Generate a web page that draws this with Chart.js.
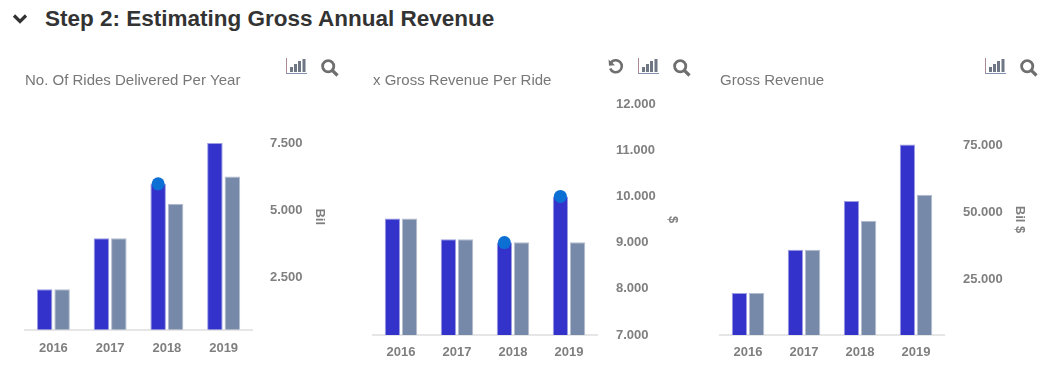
<!DOCTYPE html>
<html>
<head>
<meta charset="utf-8">
<script src="https://cdn.jsdelivr.net/npm/chart.js@4"></script>
<style>
  html, body { margin: 0; padding: 0; background: #fff; width: 1050px; height: 377px; overflow: hidden; }
  h2 { position: absolute; left: 45px; top: 6px; margin: 0; font: bold 22.5px/26px "Liberation Sans", Arial, sans-serif; color: #333; }
  canvas, svg.icon { position: absolute; }
</style>
</head>
<body>
<svg width="0" height="0" style="position:absolute">
  <symbol id="barsIcon" viewBox="0 0 21 16">
    <path d="M.5 0V15" stroke="#a98a94" fill="none"/>
    <path d="M0 15.5H21" stroke="#8190ad" fill="none"/>
    <path d="M4 9h3v5H4zM8 6h3v8H8zM12 3h3v11h-3zM16.5 1h3v13h-3z" fill="#6f7784"/>
  </symbol>
  <symbol id="zoomIcon" viewBox="0 0 18 18">
    <circle cx="7.2" cy="7.2" r="5.6" fill="none" stroke="#6f6f6f" stroke-width="2.8"/>
    <path d="M11.3 11.3L16.5 16.5" stroke="#6f6f6f" stroke-width="3.2" fill="none"/>
  </symbol>
  <symbol id="resetIcon" viewBox="0 0 16 15">
    <path d="M3 3.6A6 6 0 1 1 2.2 9.5" fill="none" stroke="#6f6f6f" stroke-width="2.6"/>
    <path d="M.6 .6L1 6.8L7 6.2z" fill="#6f6f6f"/>
  </symbol>
</svg>

<svg class="icon" style="left:12px;top:13px" width="16" height="12" viewBox="0 0 16 12"><path d="M2 2.5l6 6 6-6" fill="none" stroke="#333" stroke-width="3.2"/></svg>
<h2>Step 2: Estimating Gross Annual Revenue</h2>

<svg class="icon" style="left:286px;top:58px" width="21" height="16"><use href="#barsIcon"/></svg>
<svg class="icon" style="left:321px;top:59px" width="18" height="18"><use href="#zoomIcon"/></svg>
<svg class="icon" style="left:608px;top:59px" width="16" height="15"><use href="#resetIcon"/></svg>
<svg class="icon" style="left:638px;top:58px" width="21" height="16"><use href="#barsIcon"/></svg>
<svg class="icon" style="left:673px;top:59px" width="18" height="18"><use href="#zoomIcon"/></svg>
<svg class="icon" style="left:985px;top:58px" width="21" height="16"><use href="#barsIcon"/></svg>
<svg class="icon" style="left:1020px;top:59px" width="18" height="18"><use href="#zoomIcon"/></svg>

<canvas id="rides"></canvas>
<canvas id="perRide"></canvas>
<canvas id="gross"></canvas>

<script>
// ── Data ─────────────────────────────────────────────────────────

const years = ['2016', '2017', '2018', '2019'];

const ridesFirst = [2.08, 3.975, 5.99, 7.5];
const ridesSecond = [2.08, 3.975, 5.25, 6.26];
const ridesTicks = [2.5, 5, 7.5];
const ridesDots = ['2018'];

const perRideFirst = [9.52, 9.07, 9.0, 10.0];
const perRideSecond = [9.52, 9.07, 9.01, 9.01];
const perRideTicks = [7, 8, 9, 10, 11, 12];
const perRideDots = ['2018', '2019'];

const grossFirst = [19.8, 36.1, 54.3, 75.5];
const grossSecond = [19.8, 36.1, 46.9, 56.7];
const grossTicks = [25, 50, 75];
const grossDots = [];

const FONT = '"Liberation Sans", Arial, sans-serif';
const GREY = '#7f7f7f';

// ── Blue marker on top of the first bar of a year ────────────────

const dotPlugin = {
    id: 'barDots',
    afterDatasetsDraw(chart, args, opts) {
        const ctx = chart.ctx;
        const bars = chart.getDatasetMeta(0).data;
        for (const year of opts.years) {
            const bar = bars[years.indexOf(year)];
            ctx.save();
            ctx.fillStyle = '#0b6fd4';
            ctx.beginPath();
            ctx.arc(bar.x, bar.y, 6.5, 0, Math.PI * 2);
            ctx.fill();
            ctx.restore();
        }
    },
};

function makeChart(id, c) {
    const canvas = document.getElementById(id);
    canvas.style.left = c.left + 'px';
    canvas.style.top = '65px';
    canvas.style.width = c.width + 'px';
    canvas.style.height = c.height + 'px';
    canvas.width = c.width;
    canvas.height = c.height;

    return new Chart(canvas, {
        type: 'bar',
        plugins: [dotPlugin],
        data: {
            labels: years,
            datasets: [
                { data: c.first, backgroundColor: '#3333cc', borderColor: '#9d9de0', borderWidth: 1 },
                { data: c.second, backgroundColor: '#7789a8', borderColor: '#b4bdd0', borderWidth: 1 },
            ],
        },
        options: {
            responsive: false,
            animation: false,
            categoryPercentage: 0.615,
            barPercentage: 0.89,
            layout: { padding: { left: c.padLeft } },
            plugins: {
                legend: { display: false },
                tooltip: { enabled: false },
                barDots: { years: c.dots },
                title: {
                    display: true,
                    text: c.title,
                    align: 'start',
                    color: '#777',
                    font: { family: FONT, size: 15, weight: 'normal' },
                    padding: { top: 7, bottom: 14 },
                },
            },
            scales: {
                x: {
                    grid: { display: false, drawTicks: false },
                    border: { color: '#e6e6e6', width: 2 },
                    ticks: { color: GREY, font: { family: FONT, size: 13, weight: 'bold' }, padding: c.xPad, maxRotation: 0 },
                    afterFit(scale) { scale.height = c.xHeight; },
                },
                y: {
                    position: 'right',
                    min: c.min,
                    max: c.max,
                    grid: { display: false, drawTicks: false },
                    border: { display: false },
                    title: {
                        display: true,
                        text: c.unit,
                        color: GREY,
                        font: { family: FONT, size: 13, weight: 'bold' },
                        padding: { top: c.unitPad, bottom: 0 },
                    },
                    ticks: {
                        color: GREY,
                        font: { family: FONT, size: 13, weight: 'bold' },
                        padding: c.yPad,
                        callback: (v) => v.toFixed(3),
                    },
                    afterBuildTicks(scale) { scale.ticks = c.ticks.map(value => ({ value })); },
                    afterFit(scale) { scale.width = c.axisWidth; },
                },
            },
        },
    });
}

makeChart('rides', {
    left: 0, width: 340, height: 305, padLeft: 25, axisWidth: 88, xHeight: 40.5, xPad: 11,
    yPad: 18, unitPad: 13, min: 0.587, max: 8.95, title: 'No. Of Rides Delivered Per Year', unit: 'Bil',
    first: ridesFirst, second: ridesSecond, ticks: ridesTicks, dots: ridesDots,
});
makeChart('perRide', {
    left: 350, width: 340, height: 305, padLeft: 23, axisWidth: 93, xHeight: 35, xPad: 10,
    yPad: 19, unitPad: 10, min: 7, max: 12, title: 'x Gross Revenue Per Ride', unit: '$',
    first: perRideFirst, second: perRideSecond, ticks: perRideTicks, dots: perRideDots,
});
makeChart('gross', {
    left: 700, width: 340, height: 305, padLeft: 20, axisWidth: 96, xHeight: 35, xPad: 10,
    yPad: 19, unitPad: 13, min: 4.1, max: 90.7, title: 'Gross Revenue', unit: 'Bil $',
    first: grossFirst, second: grossSecond, ticks: grossTicks, dots: grossDots,
});
</script>
</body>
</html>
